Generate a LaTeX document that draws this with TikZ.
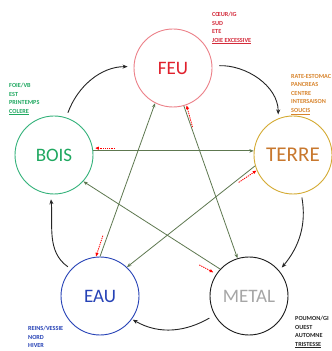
\documentclass[tikz,border=0pt]{standalone}
\usepackage{fontspec}
\setmainfont{Carlito}
\usetikzlibrary{arrows.meta,calc}
\definecolor{feutext}{HTML}{E0202C}
\definecolor{feuring}{HTML}{EC8088}
\definecolor{feuinfo}{HTML}{D42A3A}
\definecolor{boistext}{HTML}{1FA860}
\definecolor{boisring}{HTML}{33B27A}
\definecolor{terretext}{HTML}{C8782E}
\definecolor{terrering}{HTML}{D4AA32}
\definecolor{terreinfo}{HTML}{D8842C}
\definecolor{eaublue}{HTML}{2642B6}
\definecolor{metaltext}{HTML}{A6A6A6}
\definecolor{stargreen}{HTML}{5E7850}
\begin{document}
\begin{tikzpicture}[x=1pt,y=1pt,
  elem/.style={circle, minimum size=78pt, inner sep=0pt, line width=0.9pt, font=\fontsize{19}{19}\selectfont},
  outer/.style={draw=black!85, line width=0.9pt, -{Stealth[length=5pt,width=4pt]}},
  star/.style={draw=stargreen, line width=0.8pt, -{Stealth[length=4.5pt,width=3.5pt]}},
  ctrl/.style={draw=red, line width=0.8pt, dash pattern=on 1.3pt off 0.9pt, -{Latex[length=4pt,width=3.5pt]}},
  info/.style={anchor=north west, inner sep=0pt, align=left, font=\fontsize{6.2}{8.5}\selectfont\bfseries}
]
\useasboundingbox (0,0) rectangle (332,351);
\fill[white] (0,0) rectangle (332,351);

\node[elem, draw=feuring, text=feutext] (feu) at (173,283) {FEU};
\node[elem, draw=boisring, text=boistext] (bois) at (54,196) {BOIS};
\node[elem, draw=terrering, text=terretext, font=\fontsize{21}{21}\selectfont] (terre) at (293,196) {TERRE};
\node[elem, draw=eaublue, text=eaublue] (eau) at (100,55) {EAU};
\node[elem, draw=black!90, text=metaltext] (metal) at (249,55) {METAL};

\node[info, text=feuinfo] (feuinfo) at (212,339) {CŒUR/IG\\SUD\\ETE\\\underline{JOIE EXCESSIVE}};
\node[info, text=boistext] (boisinfo) at (9,268) {FOIE/VB\\EST\\PRINTEMPS\\\underline{COLERE}};
\node[info, text=terreinfo] (terreinfo) at (291,277) {RATE-ESTOMAC\\PANCREAS\\CENTRE\\INTERSAISON\\\underline{SOUCIS}};
\node[info, text=eaublue] (eauinfo) at (28,25) {REINS/VESSIE\\NORD\\HIVER};
\node[info, text=black!85] (metalinfo) at (295,35) {POUMON/GI\\OUEST\\AUTOMNE\\\underline{TRISTESSE}};

% outer cycle
\draw[outer, shorten <=5pt, shorten >=6pt] (bois.72) to[out=70,in=180] (feu.178);
\draw[outer, shorten <=7pt, shorten >=4pt] (feu.3) to[out=2,in=90] (terre.112);
\draw[outer, shorten <=4pt, shorten >=4pt] (terre.282) to[out=-80,in=50] (metal.40);
\draw[outer, shorten <=6pt, shorten >=1pt] (metal.209) to[out=210,in=-30] (eau.324);
\draw[outer, shorten <=4pt, shorten >=5pt] (eau.137) to[out=145,in=-85] (bois.265);

% star
\draw[star] (bois.6) -- (terre.174);
\draw[star] (terre.196) -- (eau.47);
\draw[star] (eau.90) -- (feu.243);
\draw[star] (feu.286) -- (metal.107);
\draw[star] (metal.137) -- (bois.318);

% counter arrows
\draw[ctrl] ($(feu.290)+(6,-22)$) -- (feu.290);
\draw[ctrl, shorten >=2pt] ($(bois.10)+(22,0)$) -- (bois.10);
\draw[ctrl] ($(terre.203)+(-18,-12)$) -- (terre.203);
\draw[ctrl] ($(eau.96)+(7,21)$) -- (eau.96);
\draw[ctrl, shorten >=3pt] ($(metal.146)+(-17,9)$) -- (metal.146);
\end{tikzpicture}
\end{document}
